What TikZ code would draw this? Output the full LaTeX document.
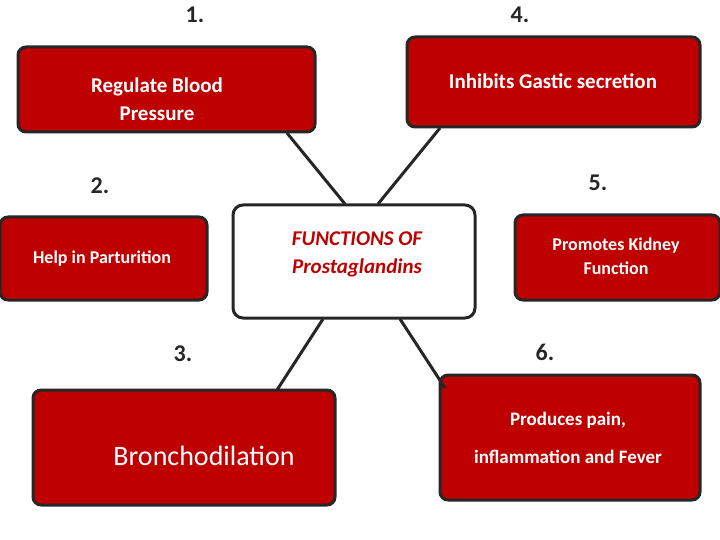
\documentclass[tikz,border=0pt]{standalone}
\usepackage{fontspec}
\setmainfont{Carlito}
\begin{document}
\begin{tikzpicture}[x=1pt,y=-1pt,
  box/.style={draw=black!85,line width=3pt,rounded corners=8pt,fill=red!75!black,text=white,align=center,inner sep=0pt},
  wt/.style={text=white,align=center},
  num/.style={font=\fontsize{24}{26}\selectfont\bfseries,text=black!85},
  con/.style={draw=black!85,line width=3pt}]
\useasboundingbox (0,0) rectangle (720,540);
\node[box,minimum width=297pt,minimum height=85pt] (b1) at (166.5,89.5) {};
\node[wt,font=\fontsize{21}{28}\selectfont\bfseries] (t1) at (157,99) {Regulate Blood\\Pressure};
\node[box,minimum width=293pt,minimum height=90pt] (b4) at (553.5,82) {};
\node[wt,font=\fontsize{21}{24}\selectfont\bfseries] (t4) at (553,81) {Inhibits Gastic secretion};
\node[box,minimum width=207pt,minimum height=83pt] (b2) at (103.5,258.5) {};
\node[wt,font=\fontsize{18}{20}\selectfont\bfseries] (t2) at (102,259) {Help in Parturition};
\node[draw=black!85,line width=3pt,rounded corners=10pt,fill=white,minimum width=242pt,minimum height=113pt] (c) at (354,261.5) {};
\node[text=red!75!black,font=\fontsize{21}{28}\selectfont\bfseries\itshape,align=center] (tc) at (357,254) {FUNCTIONS OF\\Prostaglandins};
\node[box,minimum width=205pt,minimum height=85pt] (b5) at (617.5,257.5) {};
\node[wt,font=\fontsize{18}{24}\selectfont\bfseries] (t5) at (616,256) {Promotes Kidney\\Function};
\node[box,minimum width=302pt,minimum height=115pt] (b3) at (184,447.5) {};
\node[wt,font=\fontsize{28}{30}\selectfont] (t3) at (204,456) {Bronchodilation};
\node[box,minimum width=260pt,minimum height=125pt] (b6) at (570,437.5) {};
\node[wt,font=\fontsize{19}{21}\selectfont\bfseries] (t6a) at (568,420) {Produces pain,};
\node[wt,font=\fontsize{19}{21}\selectfont\bfseries] (t6b) at (568,457) {inflammation and Fever};
\node[num] (n1) at (195,15) {1.};
\node[num] (n4) at (520,15) {4.};
\node[num] (n2) at (100,186) {2.};
\node[num] (n5) at (598,183) {5.};
\node[num] (n3) at (183,354) {3.};
\node[num] (n6) at (545,352) {6.};
\coordinate (p1) at (287,133); \coordinate (q1) at (345,204);
\coordinate (p4) at (440,128); \coordinate (q4) at (378,204);
\coordinate (p3) at (277,390); \coordinate (q3) at (323,319);
\coordinate (p6) at (445,388); \coordinate (q6) at (400,319);
\draw[con] (p1) -- (q1);
\draw[con] (p4) -- (q4);
\draw[con] (p3) -- (q3);
\draw[con] (p6) -- (q6);
\end{tikzpicture}
\end{document}
